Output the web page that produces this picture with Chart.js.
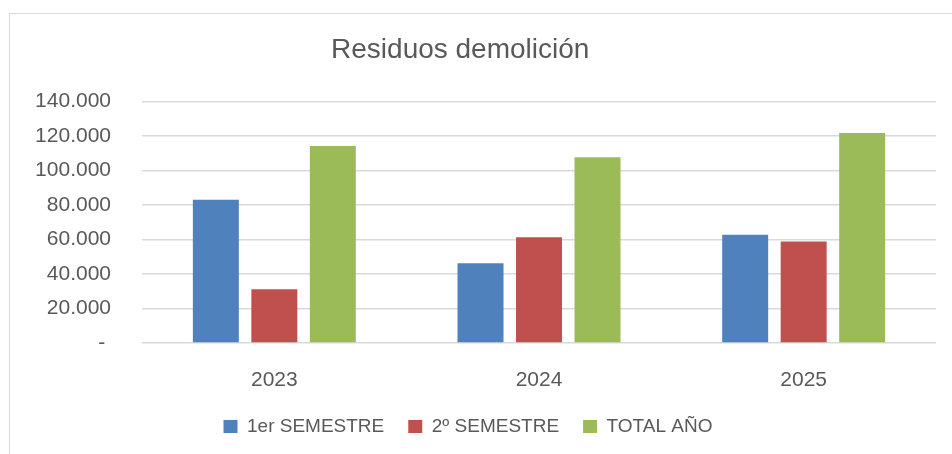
<!DOCTYPE html>
<html><head><meta charset="utf-8">
<script src="https://cdn.jsdelivr.net/npm/chart.js@4"></script>
<style>
html,body{margin:0;padding:0;background:#fff;overflow:hidden;width:952px;height:454px}
#frame{position:absolute;left:9px;top:13px;width:1000px;height:1000px;border:1px solid #d9d9d9;box-sizing:border-box}
#wrap{position:absolute;left:0;top:0;width:952px;height:454px}
</style></head><body>
<div id="frame"></div>
<div id="wrap"><canvas id="c" width="952" height="454"></canvas></div>
<script>
const categories = ['2023', '2024', '2025'];
const seriesNames = ['1er SEMESTRE', '2º SEMESTRE', 'TOTAL AÑO'];
const sem1 = [83100, 46300, 62800];
const sem2 = [31200, 61400, 58900];
const totalYear = [114200, 107700, 121800];
const yTickLabels = ['- ', '20.000', '40.000', '60.000', '80.000', '100.000', '120.000', '140.000'];
const chartTitle = 'Residuos demolición';

Chart.defaults.font.family = "'Liberation Sans', Arial, sans-serif";
Chart.defaults.color = '#595959';

new Chart(document.getElementById('c'), {
  type: 'bar',
  data: {
    labels: categories,
    datasets: [
      { label: seriesNames[0], data: sem1, backgroundColor: '#4F81BD' },
      { label: seriesNames[1], data: sem2, backgroundColor: '#C0504D' },
      { label: seriesNames[2], data: totalYear, backgroundColor: '#9BBB59' }
    ]
  },
  options: {
    responsive: false,
    animation: false,
    devicePixelRatio: 1,
    layout: { padding: { left: 0, right: 16, top: 0, bottom: 8 } },
    datasets: { bar: { categoryPercentage: 0.663, barPercentage: 0.786 } },
    plugins: {
      title: {
        display: true,
        text: chartTitle + '\u00a0\u00a0',
        color: '#595959',
        font: { size: 28, weight: 'normal' },
        padding: { top: 33, bottom: 35 }
      },
      legend: {
        position: 'bottom',
        labels: {
          boxWidth: 14, boxHeight: 13, padding: 24,
          color: '#595959',
          font: { size: 19 }
        }
      },
      tooltip: { enabled: false }
    },
    scales: {
      x: {
        grid: { display: false },
        border: { display: false },
        ticks: { padding: 17, font: { size: 21 }, color: '#595959' },
        afterFit: (s) => { s.height = 50; }
      },
      y: {
        min: 0, max: 140000,
        grid: { color: '#d9d9d9', lineWidth: 1.4, drawTicks: false },
        border: { display: false },
        ticks: {
          stepSize: 20000, padding: 31, font: { size: 21 }, color: '#595959',
          callback: (v, i) => yTickLabels[i]
        },
        afterFit: (s) => { s.width = 142; }
      }
    }
  }
});
</script>
</body></html>
